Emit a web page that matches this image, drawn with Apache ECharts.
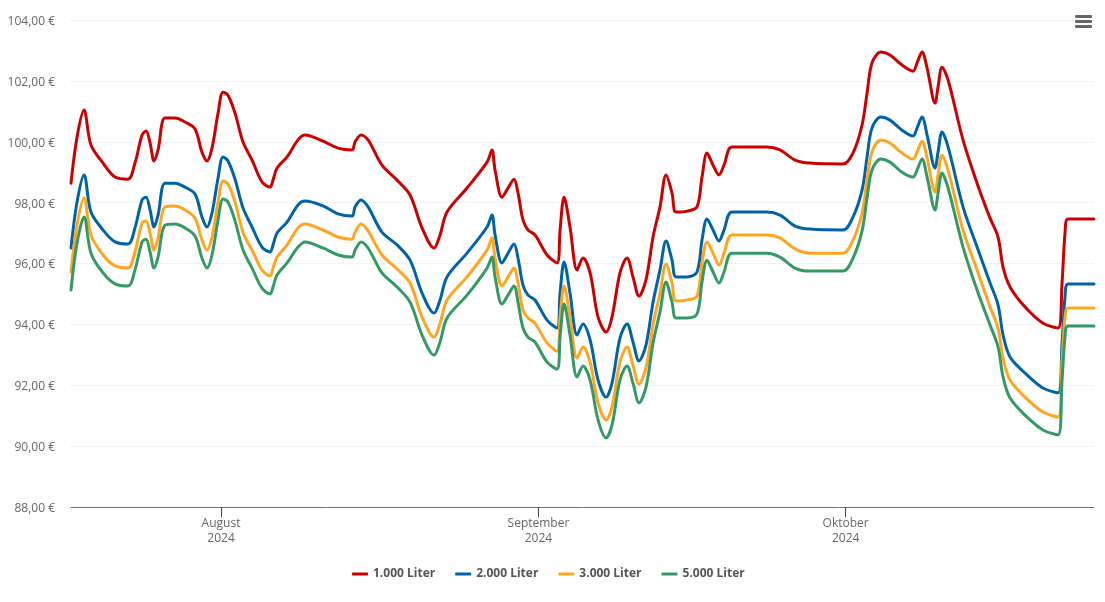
<!DOCTYPE html>
<html>
<head>
<meta charset="utf-8">
<title>Heizölpreise</title>
<script src="https://cdn.jsdelivr.net/npm/echarts@6/dist/echarts.min.js"></script>
<style>
html, body { margin: 0; padding: 0; background: #fff; }
#chart { width: 1105px; height: 602px; }
</style>
</head>
<body>
<div id="chart"></div>
<script>
// days counted from 1 July 2024 (0 = 1 July, 31 = 1 August ...)
var days = [
  16.35, 16.94, 17.62, 18.30, 19.48, 20.65, 21.92, 22.60, 23.29, 23.68,
  24.07, 24.46, 24.85, 25.53, 26.51, 27.48, 28.46, 29.14, 29.63, 30.12,
  30.71, 31.20, 31.68, 32.37, 33.15, 34.03, 35.00, 35.79, 36.08, 36.47,
  37.45, 38.52, 39.20, 40.96, 42.43, 43.79, 44.09, 44.67, 45.36, 46.72,
  48.19, 49.46, 50.63, 51.80, 52.39, 53.07, 55.02, 56.98, 57.46, 57.76,
  58.44, 59.03, 59.61, 60.00, 60.49, 60.98, 61.66, 62.84, 63.81, 64.11,
  64.50, 65.08, 65.77, 66.35, 67.04, 67.82, 68.60, 69.18, 69.96, 70.65,
  71.23, 71.82, 72.50, 73.19, 73.87, 74.46, 75.04, 75.43, 76.51, 77.48,
  77.97, 78.46, 79.05, 79.63, 80.12, 80.90, 84.32, 85.59, 87.05, 88.52,
  91.74, 92.72, 93.60, 94.09, 94.57, 95.45, 96.33, 97.50, 98.58, 98.97,
  99.46, 99.95, 100.73, 101.02, 101.41, 102.00, 103.46, 104.83, 106.10, 106.88,
  107.37, 108.05, 109.52, 111.27, 112.74, 113.13, 113.42, 113.71, 116.25
];

var liter1000 = [
  98.64, 100.15, 101.04, 99.89, 99.30, 98.84, 98.77, 99.30, 100.22, 100.35,
  99.96, 99.37, 99.73, 100.78, 100.78, 100.65, 100.42, 99.66, 99.37, 99.79,
  100.94, 101.63, 101.53, 100.94, 99.99, 99.40, 98.68, 98.51, 98.74, 99.14,
  99.50, 100.06, 100.22, 100.02, 99.79, 99.73, 99.99, 100.22, 100.06, 99.23,
  98.74, 98.25, 97.17, 96.51, 96.94, 97.69, 98.48, 99.33, 99.73, 99.07,
  98.18, 98.48, 98.77, 98.32, 97.43, 97.10, 96.94, 96.28, 96.02, 97.10,
  98.18, 97.20, 95.79, 96.18, 95.69, 94.24, 93.75, 94.24, 95.69, 96.18,
  95.56, 94.93, 95.46, 96.87, 97.86, 98.91, 98.32, 97.69, 97.72, 97.86,
  98.84, 99.63, 99.23, 98.91, 99.23, 99.83, 99.83, 99.73, 99.40, 99.30,
  99.27, 99.63, 100.55, 101.60, 102.59, 102.95, 102.85, 102.52, 102.32, 102.59,
  102.95, 102.42, 101.27, 101.80, 102.45, 102.03, 100.06, 98.64, 97.49, 96.87,
  95.88, 95.23, 94.57, 94.04, 93.88, 95.36, 97.00, 97.46, 97.46
];

var liter2000 = [
  96.51, 98.02, 98.91, 97.69, 97.10, 96.71, 96.64, 97.17, 98.09, 98.18,
  97.76, 97.20, 97.59, 98.64, 98.64, 98.51, 98.28, 97.53, 97.20, 97.66,
  98.81, 99.50, 99.37, 98.77, 97.82, 97.20, 96.54, 96.38, 96.61, 97.00,
  97.36, 97.92, 98.05, 97.89, 97.63, 97.56, 97.86, 98.09, 97.86, 97.03,
  96.61, 96.11, 95.03, 94.37, 94.80, 95.56, 96.34, 97.20, 97.59, 96.94,
  96.02, 96.34, 96.64, 96.18, 95.29, 94.96, 94.80, 94.14, 93.88, 95.03,
  96.05, 95.03, 93.65, 94.01, 93.49, 92.17, 91.61, 92.07, 93.55, 94.01,
  93.42, 92.80, 93.32, 94.73, 95.79, 96.74, 96.11, 95.56, 95.56, 95.72,
  96.77, 97.46, 97.10, 96.74, 97.10, 97.69, 97.69, 97.59, 97.23, 97.13,
  97.10, 97.53, 98.41, 99.50, 100.45, 100.81, 100.71, 100.38, 100.19, 100.45,
  100.81, 100.22, 99.14, 99.66, 100.32, 99.83, 97.86, 96.54, 95.36, 94.64,
  93.65, 92.93, 92.40, 91.91, 91.75, 93.39, 94.90, 95.33, 95.33
];

var liter3000 = [
  95.72, 97.26, 98.15, 96.94, 96.28, 95.92, 95.85, 96.38, 97.33, 97.40,
  97.00, 96.44, 96.84, 97.86, 97.89, 97.76, 97.49, 96.77, 96.44, 96.87,
  98.02, 98.71, 98.61, 98.02, 97.03, 96.44, 95.79, 95.59, 95.85, 96.21,
  96.61, 97.17, 97.30, 97.10, 96.87, 96.80, 97.03, 97.30, 97.07, 96.28,
  95.82, 95.36, 94.24, 93.58, 94.04, 94.80, 95.56, 96.44, 96.84, 96.18,
  95.26, 95.56, 95.85, 95.36, 94.47, 94.21, 94.04, 93.39, 93.12, 94.24,
  95.26, 94.24, 92.89, 93.26, 92.76, 91.42, 90.86, 91.29, 92.76, 93.26,
  92.66, 92.04, 92.57, 93.98, 95.03, 95.98, 95.36, 94.77, 94.80, 94.93,
  96.02, 96.71, 96.34, 95.95, 96.34, 96.94, 96.94, 96.84, 96.48, 96.34,
  96.34, 96.77, 97.66, 98.74, 99.66, 100.06, 99.96, 99.63, 99.43, 99.66,
  100.02, 99.46, 98.35, 98.91, 99.56, 99.07, 97.10, 95.79, 94.57, 93.88,
  92.89, 92.17, 91.61, 91.12, 90.96, 92.83, 94.24, 94.54, 94.54
];

var liter5000 = [
  95.13, 96.67, 97.53, 96.34, 95.69, 95.33, 95.26, 95.79, 96.71, 96.80,
  96.38, 95.85, 96.21, 97.26, 97.30, 97.17, 96.90, 96.18, 95.85, 96.28,
  97.43, 98.12, 98.02, 97.40, 96.44, 95.85, 95.19, 95.00, 95.23, 95.62,
  96.02, 96.54, 96.71, 96.51, 96.28, 96.21, 96.44, 96.71, 96.51, 95.69,
  95.23, 94.73, 93.65, 92.99, 93.42, 94.21, 94.96, 95.85, 96.21, 95.56,
  94.67, 94.96, 95.26, 94.73, 93.88, 93.58, 93.42, 92.76, 92.53, 93.58,
  94.67, 93.65, 92.27, 92.63, 92.17, 90.86, 90.27, 90.69, 92.17, 92.63,
  92.07, 91.42, 91.94, 93.39, 94.41, 95.39, 94.73, 94.21, 94.21, 94.34,
  95.39, 96.11, 95.72, 95.36, 95.72, 96.34, 96.34, 96.21, 95.85, 95.75,
  95.75, 96.18, 97.07, 98.15, 99.07, 99.43, 99.33, 99.00, 98.84, 99.07,
  99.43, 98.84, 97.76, 98.31, 98.97, 98.48, 96.54, 95.13, 93.98, 93.26,
  92.27, 91.58, 91.02, 90.53, 90.37, 92.17, 93.58, 93.95, 93.95
];

var monthTicks = [31, 62, 92];
var monthLabels = ['August\n2024', 'September\n2024', 'Oktober\n2024'];
var seriesNames = ['1.000 Liter', '2.000 Liter', '3.000 Liter', '5.000 Liter'];
var seriesValues = [liter1000, liter2000, liter3000, liter5000];
var seriesColors = ['#cc0000', '#0063a8', '#ffa51f', '#349966'];

var chart = echarts.init(document.getElementById('chart'), null, { renderer: 'canvas' });

var series = [];
for (var i = 0; i < seriesNames.length; i++) {
  var points = [];
  for (var j = 0; j < days.length; j++) {
    points.push([days[j], seriesValues[i][j]]);
  }
  series.push({
    name: seriesNames[i],
    type: 'line',
    data: points,
    smooth: 0.33,
    showSymbol: false,
    symbol: 'none',
    lineStyle: { width: 3, color: seriesColors[i], cap: 'round', join: 'round' },
    itemStyle: { color: seriesColors[i] }
  });
}

chart.setOption({
  animation: false,
  backgroundColor: '#fff',
  textStyle: { fontFamily: '"Open Sans", sans-serif' },
  grid: { left: 71, right: 11, top: 20, bottom: 95 },
  legend: {
    top: 563,
    left: 347,
    itemWidth: 16,
    itemHeight: 3,
    itemGap: 20,
    icon: 'roundRect',
    textStyle: { fontFamily: '"Open Sans", sans-serif', fontSize: 12, fontWeight: 'bold', color: '#555' },
    data: seriesNames
  },
  xAxis: {
    type: 'value',
    min: 16.35,
    max: 116.25,
    splitLine: { show: false },
    axisLine: { lineStyle: { color: '#707070', width: 1 } },
    axisTick: { length: 10, customValues: monthTicks, lineStyle: { color: '#444', width: 1 } },
    axisLabel: {
      customValues: monthTicks,
      margin: 9,
      color: '#666',
      fontSize: 12,
      lineHeight: 15,
      formatter: function (value) {
        return monthLabels[monthTicks.indexOf(value)];
      }
    }
  },
  yAxis: {
    type: 'value',
    min: 88,
    max: 104,
    interval: 2,
    axisLine: { show: false },
    axisTick: { show: false },
    splitLine: { lineStyle: { color: '#e6e6e6', type: 'dotted', width: 1 } },
    axisLabel: {
      margin: 16,
      formatter: function (value) {
        return '{price|' + value.toFixed(2).replace('.', ',') + ' €}';
      },
      rich: {
        price: {
          color: '#666',
          fontSize: 12,
          fontFamily: '"Open Sans", sans-serif',
          padding: [3, 0, 0, 0]
        }
      }
    }
  },
  // hamburger menu top right
  graphic: [
    { type: 'rect', z: 100, left: 1075, top: 15, shape: { width: 17, height: 3, r: 1 }, style: { fill: '#666' } },
    { type: 'rect', z: 100, left: 1075, top: 20, shape: { width: 17, height: 3, r: 1 }, style: { fill: '#666' } },
    { type: 'rect', z: 100, left: 1075, top: 25, shape: { width: 17, height: 3, r: 1 }, style: { fill: '#666' } }
  ],
  series: series
});
</script>
</body>
</html>
